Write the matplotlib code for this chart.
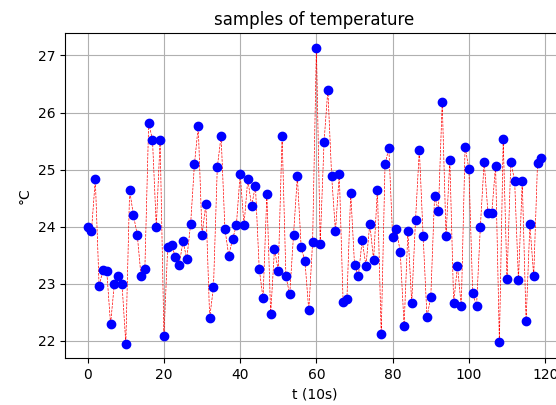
import numpy as np
import matplotlib
matplotlib.use("Agg")
import matplotlib.pyplot as plt

# temperature samples, one every 10 s
temperature = [
    24.00, 23.93, 24.83, 22.95, 23.24, 23.22, 22.29, 23.00, 23.13, 23.00,
    21.95, 24.64, 24.20, 23.86, 23.13, 23.26, 25.82, 25.52, 24.00, 25.52,
    22.09, 23.65, 23.68, 23.47, 23.33, 23.74, 23.44, 24.04, 25.09, 25.76,
    23.86, 24.39, 22.40, 22.94, 25.04, 25.59, 23.96, 23.49, 23.78, 24.02,
    24.93, 24.02, 24.83, 24.36, 24.72, 23.26, 22.74, 24.57, 22.47, 23.60,
    23.23, 25.59, 23.13, 22.81, 23.86, 24.88, 23.64, 23.39, 22.53, 23.73,
    27.13, 23.70, 25.48, 26.40, 24.88, 23.92, 24.93, 22.68, 22.73, 24.59,
    23.33, 23.13, 23.76, 23.31, 24.05, 23.42, 24.65, 22.11, 25.09, 25.38,
    23.81, 23.95, 23.55, 22.26, 23.92, 22.66, 24.12, 25.35, 23.83, 22.42,
    22.76, 24.54, 24.27, 26.19, 23.83, 25.17, 22.66, 23.31, 22.60, 25.40,
    25.01, 22.83, 22.60, 23.99, 25.14, 24.24, 24.24, 25.07, 21.97, 25.53,
    23.08, 25.14, 24.80, 23.06, 24.80, 22.34, 24.04, 23.13, 25.11, 25.21,
]
t = np.arange(len(temperature))

fig = plt.figure(figsize=(5.56, 4.05), dpi=100)
# axes run past the right edge, as in the cropped original
ax = fig.add_axes([0.1169, 0.1153, 0.8975, 0.8025])

ax.plot(t, temperature, 'r--', linewidth=0.5)
ax.plot(t, temperature, 'bo', markersize=6)

ax.grid(True)
ax.set_title('samples of temperature')
ax.set_xlabel('t (10s)')
ax.set_ylabel('°C')

fig.savefig('out.png', dpi=100)
